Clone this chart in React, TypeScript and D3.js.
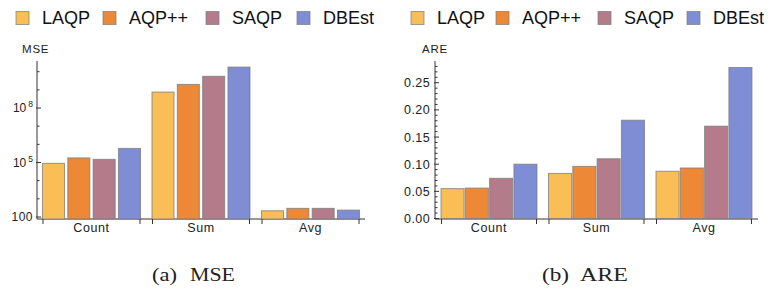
import React from "react";
import * as d3 from "d3";

// data
const categories = ["Count", "Sum", "Avg"];
const seriesNames = ["LAQP", "AQP++", "SAQP", "DBEst"];
const colors = ["#F9BE55", "#EC8836", "#B47B8B", "#7F8ED4"];

const mseLAQP = [9e4, 7.6e8, 220];
const mseAQPpp = [1.8e5, 2.0e9, 300];
const mseSAQP = [1.5e5, 5.6e9, 300];
const mseDBEst = [6.0e5, 1.8e10, 240];

const areLAQP = [0.055, 0.083, 0.087];
const areAQPpp = [0.056, 0.096, 0.093];
const areSAQP = [0.074, 0.110, 0.170];
const areDBEst = [0.100, 0.181, 0.278];

const mseMajorExp = [2, 5, 8];
const mseMinorExp = [3, 4, 6, 7, 9, 10];
const areMajorTicks = [0, 0.05, 0.1, 0.15, 0.2, 0.25];

const mseSeries = [mseLAQP, mseAQPpp, mseSAQP, mseDBEst];
const areSeries = [areLAQP, areAQPpp, areSAQP, areDBEst];

const SANS = "'Liberation Sans', Arial, sans-serif";
const SERIF = "'Liberation Serif', 'Times New Roman', serif";
const EDGE = "#7a7a7a";

function Legend({ xs }: { xs: number[] }) {
	return (
		<g>
			{seriesNames.map((s, i) => (
				<g key={s}>
					<rect x={xs[i]} y={11.5} width={13} height={13} fill={colors[i]} stroke={EDGE} strokeOpacity={0.7} />
					<text x={xs[i] + 26} y={24} fontFamily={SANS} fontSize={18} fill="#111">{s}</text>
				</g>
			))}
		</g>
	);
}

function Bars({ data, x0, x1, y, inner, gOuter, baseY }: any) {
	const gx = d3.scaleBand().domain(categories).range([x0, x1]).paddingInner(gOuter[0]).paddingOuter(gOuter[1]);
	const sx = d3.scaleBand().domain(seriesNames).range([0, gx.bandwidth()]).paddingInner(inner).paddingOuter(0);
	return (
		<g>
			{/* x axis line */}
			<line x1={x0} x2={x1} y1={219} y2={219} stroke="#333" strokeWidth={1} />
			{categories.map((c, ci) => {
				const gx0 = gx(c)!;
				return (
					<g key={c}>
						{seriesNames.map((s, si) => {
							const v = data[si][ci];
							const top = y(v);
							return (
								<rect key={s} x={gx0 + sx(s)!} y={top} width={sx.bandwidth()} height={baseY - top}
									fill={colors[si]} stroke={EDGE} strokeOpacity={0.75} strokeWidth={1} />
							);
						})}
						<line x1={gx0 + 0.5} x2={gx0 + 0.5} y1={219} y2={224} stroke="#333" />
						<line x1={gx0 + gx.bandwidth() - 0.5} x2={gx0 + gx.bandwidth() - 0.5} y1={219} y2={224} stroke="#333" />
						<text x={gx0 + gx.bandwidth() / 2} y={232} textAnchor="middle" fontFamily={SANS} fontSize={12.5}
							letterSpacing={0.6} fill="#222">{c}</text>
					</g>
				);
			})}
		</g>
	);
}

function MsePanel() {
	const x0 = 37, x1 = 365;
	const y = d3.scaleLog().domain([Math.pow(10, 1.89), Math.pow(10, 10.59)]).range([219, 61]);
	return (
		<g>
			<Legend xs={[16, 103, 206, 297]} />
			<text x={22} y={53} fontFamily={SANS} fontSize={11.5} letterSpacing={0.8} fill="#222">MSE</text>
			<Bars data={mseSeries} x0={x0} x1={x1} y={y} inner={0.13} gOuter={[0.105, 0.05]} baseY={219} />
			<line x1={x0} x2={x0} y1={61} y2={219} stroke="#333" />
			{mseMinorExp.map(e => (
				<line key={e} x1={x0} x2={x0 + 2.5} y1={y(Math.pow(10, e))} y2={y(Math.pow(10, e))} stroke="#333" />
			))}
			{mseMajorExp.map(e => {
				const ty = y(Math.pow(10, e));
				return (
					<g key={e}>
						<line x1={x0 - 1} x2={x0 + 4} y1={ty} y2={ty} stroke="#333" />
						{e === 2 ? (
							<text x={33} y={ty + 4} textAnchor="end" fontFamily={SANS} fontSize={12} letterSpacing={0.5} fill="#222">100</text>
						) : (
							<text x={33} y={ty + 4} textAnchor="end" fontFamily={SANS} fontSize={12} fill="#222">
								10<tspan dx={2} dy={-5} fontSize={8.5}>{e}</tspan>
							</text>
						)}
					</g>
				);
			})}
			<text x={152} y={281} fontFamily={SERIF} fontSize={19} textLength={25} lengthAdjust="spacingAndGlyphs" fill="#222">(a)</text>
			<text x={190} y={281} fontFamily={SERIF} fontSize={19} textLength={45} lengthAdjust="spacingAndGlyphs" fill="#222">MSE</text>
		</g>
	);
}

function ArePanel() {
	const x0 = 435, x1 = 758;
	const y = d3.scaleLinear().domain([0, 0.29]).range([218.5, 61]);
	const minor = d3.range(0, 29).map(i => i / 100).filter(v => Math.round(v * 100) % 5 !== 0);
	return (
		<g>
			<Legend xs={[411, 496, 598, 687]} />
			<text x={422} y={53} fontFamily={SANS} fontSize={11.5} letterSpacing={0.8} fill="#222">ARE</text>
			<Bars data={areSeries} x0={x0} x1={x1} y={y} inner={0.05} gOuter={[0.107, 0.056]} baseY={218.5} />
			<line x1={x0} x2={x0} y1={61} y2={219} stroke="#333" />
			{minor.map(v => (
				<line key={v} x1={x0} x2={x0 + 2.5} y1={y(v)} y2={y(v)} stroke="#333" />
			))}
			{areMajorTicks.map(v => (
				<g key={v}>
					<line x1={x0 - 1} x2={x0 + 4} y1={y(v)} y2={y(v)} stroke="#333" />
					<text x={430} y={y(v) + 4.5} textAnchor="end" fontFamily={SANS} fontSize={12.5} letterSpacing={0.4} fill="#222">
						{d3.format(".2f")(v)}
					</text>
				</g>
			))}
			<text x={542} y={281} fontFamily={SERIF} fontSize={19} textLength={27} lengthAdjust="spacingAndGlyphs" fill="#222">(b)</text>
			<text x={580} y={281} fontFamily={SERIF} fontSize={19} textLength={48} lengthAdjust="spacingAndGlyphs" fill="#222">ARE</text>
		</g>
	);
}

export default function App() {
	return (
		<svg width={773} height={293} style={{ position: "absolute", left: 0, top: 0, background: "#fff" }}>
			<MsePanel />
			<ArePanel />
		</svg>
	);
}
